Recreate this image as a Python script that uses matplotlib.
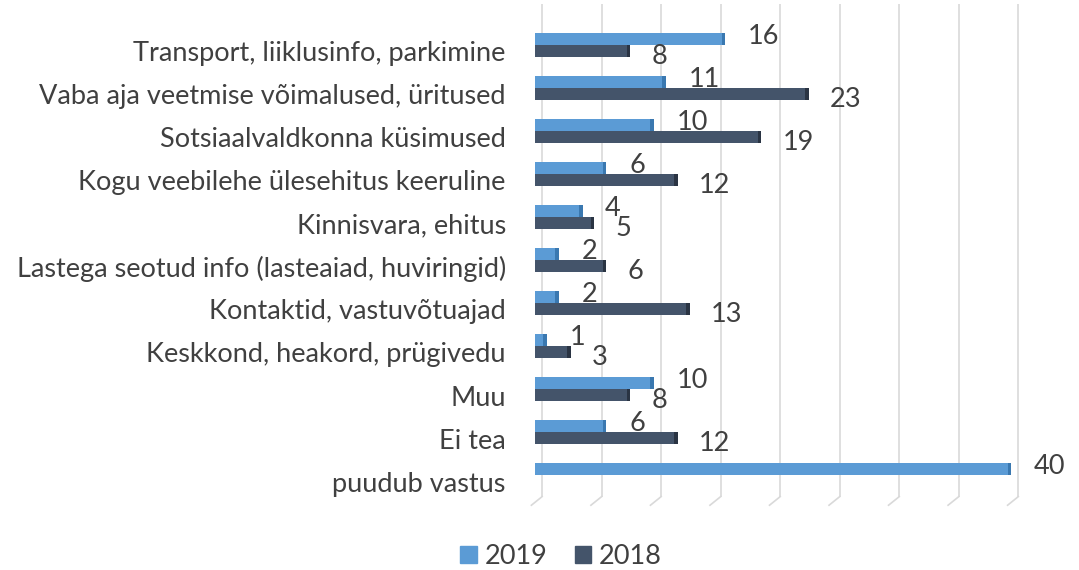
import numpy as np
import matplotlib.pyplot as plt
from matplotlib.patches import Patch

# data, top to bottom as in the chart
categories = [
    "Transport, liiklusinfo, parkimine",
    "Vaba aja veetmise võimalused, üritused",
    "Sotsiaalvaldkonna küsimused",
    "Kogu veebilehe ülesehitus keeruline",
    "Kinnisvara, ehitus",
    "Lastega seotud info (lasteaiad, huviringid)",
    "Kontaktid, vastuvõtuajad",
    "Keskkond, heakord, prügivedu",
    "Muu",
    "Ei tea",
    "puudub vastus",
]
values_2019 = [16, 11, 10, 6, 4, 2, 2, 1, 10, 6, 40]
values_2018 = [8, 23, 19, 12, 5, 6, 13, 3, 8, 12, 0]

c2019 = "#5B9BD5"
c2018 = "#44546A"
text_col = "#404040"

plt.rcParams['font.family'] = ['Lato', 'DejaVu Sans']

fig = plt.figure(figsize=(10.79, 5.70), dpi=100)
ax = fig.add_axes([0.4958, 0.128, 0.4634, 0.865])

y = np.arange(len(categories))
h = 0.28

# gridlines (3D style: back wall line + slanted foot)
for g in range(0, 45, 5):
    gx = g + 0.6
    ax.plot([gx, gx], [-0.95, 10.5], color="#D9D9D9", lw=1.2, zorder=0)
    ax.plot([gx, gx - 0.9], [10.5, 10.7], color="#D9D9D9", lw=1.2, zorder=0, clip_on=False)

ax.barh(y - h / 2, values_2019, height=h, color=c2019, zorder=2)
ax.barh(y + h / 2, values_2018, height=h, color=c2018, zorder=2)

# darker end caps to mimic the 3D bar sides
for yi, v in zip(y, values_2019):
    if v > 0:
        ax.barh(yi - h / 2, 0.3, left=v - 0.3, height=h, color="#3A78B0", zorder=3)
for yi, v in zip(y, values_2018):
    if v > 0:
        ax.barh(yi + h / 2, 0.3, left=v - 0.3, height=h, color="#2A3443", zorder=3)

# value labels
for yi, v in zip(y, values_2019):
    ax.text(v + 1.9, yi - h / 2 - 0.05, str(v), va="center", ha="left",
            fontsize=19.5, color=text_col)
for yi, v in zip(y, values_2018):
    if v > 0:
        ax.text(v + 1.8, yi + h / 2 + 0.12, str(v), va="center", ha="left",
                fontsize=19.5, color=text_col)

ax.set_xlim(0, 42)
ax.set_ylim(10.51, -0.95)
ax.set_yticks(y + 0.15)
ax.set_yticklabels(categories, fontsize=19.5, color=text_col)
ax.tick_params(axis="y", length=0, pad=21)
ax.set_xticks([])
for s in ax.spines.values():
    s.set_visible(False)

handles = [Patch(color=c2019, label="2019"), Patch(color=c2018, label="2018")]
leg = fig.legend(handles=handles, loc="center", bbox_to_anchor=(0.52, 0.024), ncol=2,
                 frameon=False, fontsize=19.5, handlelength=0.6, handleheight=0.6,
                 handletextpad=0.3, columnspacing=1.0)
for t in leg.get_texts():
    t.set_color(text_col)

fig.savefig("out.png", dpi=100)
